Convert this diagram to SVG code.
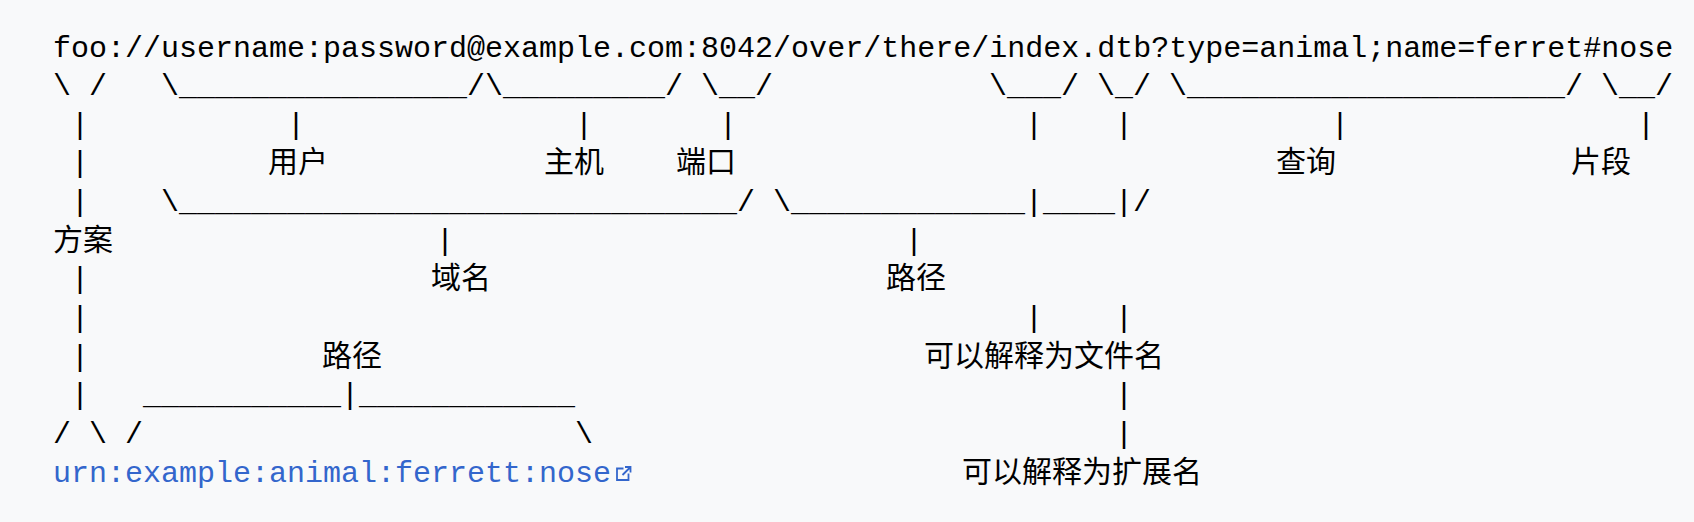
<svg xmlns="http://www.w3.org/2000/svg" width="1694" height="522" viewBox="0 0 1694 522">
<style>
.m{font-family:"Liberation Mono","Courier New",monospace;font-size:30px;fill:#000;white-space:pre}
.c{font-family:"Noto Sans CJK SC","Noto Sans",sans-serif;font-size:30px;fill:#000}
.lk{fill:#3366cc}
</style>
<rect width="1694" height="522" fill="#f8f9fa"/>
<g id="uri">
<text class="m" x="53" y="56.5">foo://username:password@example.com:8042/over/there/index.dtb?type=animal;name=ferret#nose</text>
</g>
<g id="connectors">
<text class="m" x="53" y="95.15">\ /</text>
<text class="m" x="161" y="95.15">\________________/</text>
<text class="m" x="485" y="95.15">\_________/</text>
<text class="m" x="701" y="95.15">\__/</text>
<text class="m" x="989" y="95.15">\___/</text>
<text class="m" x="1097" y="95.15">\_/</text>
<text class="m" x="1169" y="95.15">\_____________________/</text>
<text class="m" x="1601" y="95.15">\__/</text>
<text class="m" x="71 287 575 719 1025 1115 1331 1637" y="133.8">||||||||</text>
<text class="m" x="71" y="172.45">|</text>
<text class="m" x="71" y="211.1">|</text>
<text class="m" x="161" y="211.1">\_______________________________/</text>
<text class="m" x="773" y="211.1">\_____________|____|/</text>
<text class="m" x="436 905" y="249.75">||</text>
<text class="m" x="71" y="288.4">|</text>
<text class="m" x="71 1025 1115" y="327.05">|||</text>
<text class="m" x="71" y="365.7">|</text>
<text class="m" x="71" y="404.35">|</text>
<text class="m" x="143" y="404.35">___________|____________</text>
<text class="m" x="1115" y="404.35">|</text>
<text class="m" x="53" y="443">/ \ /</text>
<text class="m" x="575 1115" y="443">\|</text>
</g>
<g id="scheme"><text class="c" x="53" y="249.75">方案</text></g>
<g id="userinfo"><text class="c" x="268" y="172.45">用户</text></g>
<g id="host"><text class="c" x="544" y="172.45">主机</text></g>
<g id="port"><text class="c" x="676" y="172.45">端口</text></g>
<g id="query"><text class="c" x="1276" y="172.45">查询</text></g>
<g id="fragment"><text class="c" x="1571" y="172.45">片段</text></g>
<g id="authority"><text class="c" x="431" y="288.4">域名</text></g>
<g id="path"><text class="c" x="886" y="288.4">路径</text></g>
<g id="urn-path"><text class="c" x="322" y="365.7">路径</text></g>
<g id="filename"><text class="c" x="924" y="365.7">可以解释为文件名</text></g>
<g id="extension"><text class="c" x="962" y="481.65">可以解释为扩展名</text></g>
<g id="urn">
<text class="m lk" x="53" y="481.65">urn:example:animal:ferrett:nose</text>
<g fill="none" stroke="#3366cc" stroke-width="1.8">
<path d="M623.5 468.5h-6.5v11.5h11.5v-6.5"/>
<path d="M622.5 475l8-8M625 467h5.5v5.5"/>
</g>
</g>
</svg>
